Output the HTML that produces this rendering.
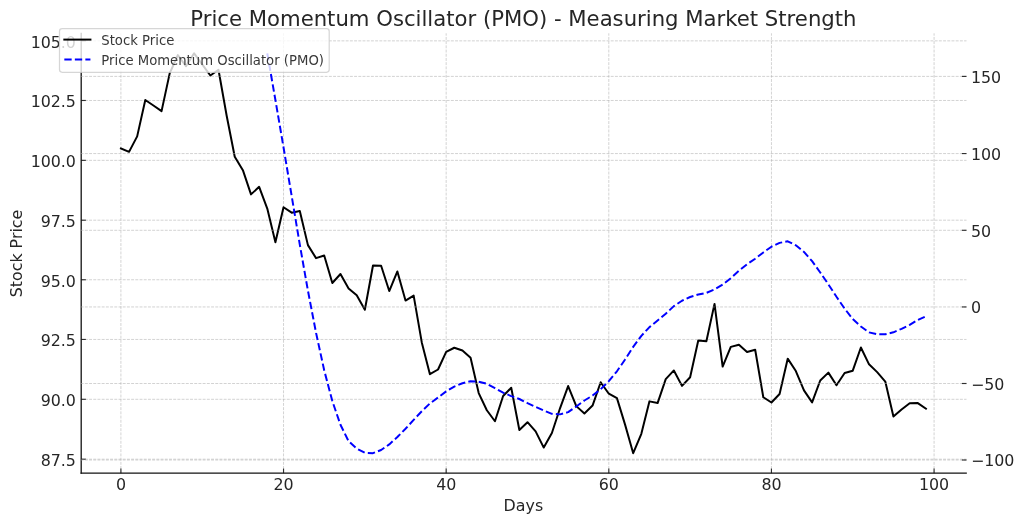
<!DOCTYPE html>
<html lang="en"><head><meta charset="utf-8">
<title>Price Momentum Oscillator (PMO) - Measuring Market Strength</title>
<style>html,body{margin:0;padding:0;background:#fff}body{width:1024px;height:524px;overflow:hidden}svg{display:block}text{font-family:"DejaVu Sans", "Liberation Sans", sans-serif;}</style>
</head><body>
<svg width="1024" height="524" viewBox="0 0 1024 524">
<rect x="0" y="0" width="1024" height="524" fill="#ffffff"/>
<g id="grid-left" fill="none" stroke="#b0b0b0" stroke-opacity="0.7" stroke-width="0.793" stroke-dasharray="2.937 1.270">
<path d="M120.9 473.2 V33.3"/>
<path d="M283.54 473.2 V33.3"/>
<path d="M446.17 473.2 V33.3"/>
<path d="M608.81 473.2 V33.3"/>
<path d="M771.44 473.2 V33.3"/>
<path d="M934.08 473.2 V33.3"/>
<path d="M80.65 459.2 H966.5"/>
<path d="M80.65 399.3 H966.5"/>
<path d="M80.65 339.45 H966.5"/>
<path d="M80.65 279.75 H966.5"/>
<path d="M80.65 220.2 H966.5"/>
<path d="M80.65 160.35 H966.5"/>
<path d="M80.65 100.47 H966.5"/>
<path d="M80.65 40.85 H966.5"/>
</g>
<path id="stock-price" d="M120.9 148.54 L129.03 151.85 L137.17 136.36 L145.3 99.95 L153.43 105.55 L161.56 111.15 L169.69 73.39 L177.82 55.04 L185.96 66.27 L194.09 53.3 L202.22 64.37 L210.35 75.51 L218.48 69.72 L226.62 115.47 L234.75 156.71 L242.88 170.15 L251.01 194.36 L259.14 186.85 L267.27 208.56 L275.41 242.32 L283.54 207.28 L291.67 212.68 L299.8 211.07 L307.93 245.13 L316.06 258.14 L324.2 255.49 L332.33 283.01 L340.46 274.03 L348.59 288.39 L356.72 295.36 L364.86 309.75 L372.99 265.46 L381.12 265.79 L389.25 291.07 L397.38 271.41 L405.51 300.59 L413.65 295.6 L421.78 342.45 L429.91 374.21 L438.04 369.5 L446.17 351.84 L454.3 347.75 L462.44 350.51 L470.57 357.71 L478.7 393.06 L486.83 410.27 L494.96 421.28 L503.1 396.01 L511.23 387.79 L519.36 429.94 L527.49 422.2 L535.62 431.4 L543.75 447.59 L551.89 432.96 L560.02 408.31 L568.15 386.05 L576.28 406.11 L584.41 413.5 L592.55 405.58 L600.68 382.26 L608.81 393.72 L616.94 398.16 L625.07 424.61 L633.2 453.2 L641.34 433.78 L649.47 401.35 L657.6 403.08 L665.73 379.08 L673.86 370.44 L681.99 385.86 L690.13 377.22 L698.26 340.45 L706.39 341.31 L714.52 303.9 L722.65 366.53 L730.79 346.88 L738.92 344.8 L747.05 351.95 L755.18 349.76 L763.31 397.27 L771.44 402.53 L779.58 393.99 L787.71 358.66 L795.84 371.05 L803.97 390.37 L812.1 402.37 L820.23 380.49 L828.37 372.63 L836.5 385.29 L844.63 373.02 L852.76 370.7 L860.89 347.54 L869.03 364.33 L877.16 372.16 L885.29 381.53 L893.42 416.52 L901.55 409.44 L909.68 403.2 L917.82 403.08 L925.95 408.69" fill="none" stroke="#000000" stroke-width="1.983" stroke-linejoin="round" stroke-miterlimit="10" stroke-linecap="square"/>
<g id="ticks-left" fill="none" stroke="#303030" stroke-width="1.15">
<path d="M120.9 473.2 v-4.63"/>
<path d="M283.54 473.2 v-4.63"/>
<path d="M446.17 473.2 v-4.63"/>
<path d="M608.81 473.2 v-4.63"/>
<path d="M771.44 473.2 v-4.63"/>
<path d="M934.08 473.2 v-4.63"/>
<path d="M81.2 459.2 h4.63"/>
<path d="M81.2 399.3 h4.63"/>
<path d="M81.2 339.45 h4.63"/>
<path d="M81.2 279.75 h4.63"/>
<path d="M81.2 220.2 h4.63"/>
<path d="M81.2 160.35 h4.63"/>
<path d="M81.2 100.47 h4.63"/>
<path d="M81.2 40.85 h4.63"/>
</g>
<g id="spines" fill="none" stroke="#121212" stroke-width="1.3" stroke-linecap="square">
<path d="M81.2 473.2 V33.3"/>
<path d="M81.2 473.2 H966.2"/>
</g>
<g id="tick-labels" fill="#262626" font-size="15.87px" letter-spacing="-0.1px">
<text x="120.9" y="490" text-anchor="middle">0</text>
<text x="283.54" y="490" text-anchor="middle">20</text>
<text x="446.17" y="490" text-anchor="middle">40</text>
<text x="608.81" y="490" text-anchor="middle">60</text>
<text x="771.44" y="490" text-anchor="middle">80</text>
<text x="934.08" y="490" text-anchor="middle">100</text>
<text x="75.7" y="466" text-anchor="end">87.5</text>
<text x="75.7" y="406" text-anchor="end">90.0</text>
<text x="75.7" y="346" text-anchor="end">92.5</text>
<text x="75.7" y="287" text-anchor="end">95.0</text>
<text x="75.7" y="227" text-anchor="end">97.5</text>
<text x="75.7" y="167" text-anchor="end">100.0</text>
<text x="75.7" y="107" text-anchor="end">102.5</text>
<text x="75.7" y="48" text-anchor="end">105.0</text>
<text x="971.1" y="466" text-anchor="start">−100</text>
<text x="971.1" y="390" text-anchor="start">−50</text>
<text x="971.1" y="313" text-anchor="start">0</text>
<text x="971.1" y="237" text-anchor="start">50</text>
<text x="971.1" y="160" text-anchor="start">100</text>
<text x="971.1" y="83" text-anchor="start">150</text>
</g>
<text x="523.4" y="510.9" text-anchor="middle" font-size="15.87px" fill="#262626">Days</text>
<text transform="translate(22 253.5) rotate(-90)" text-anchor="middle" font-size="15.87px" fill="#262626">Stock Price</text>
<text x="523.45" y="25.6" text-anchor="middle" font-size="21.2px" fill="#262626">Price Momentum Oscillator (PMO) - Measuring Market Strength</text>
<g id="grid-right" fill="none" stroke="#b0b0b0" stroke-opacity="0.7" stroke-width="0.793" stroke-dasharray="2.937 1.270">
<path d="M80.65 460 H966.5"/>
<path d="M80.65 383.5 H966.5"/>
<path d="M80.65 306.95 H966.5"/>
<path d="M80.65 230.3 H966.5"/>
<path d="M80.65 153.55 H966.5"/>
<path d="M80.65 76.4 H966.5"/>
</g>
<path id="pmo" d="M267.27 53.3 L275.41 100.01 L283.54 147.51 L291.67 195.94 L299.8 244.61 L307.93 290.69 L316.06 332.89 L324.2 370.31 L332.33 401.09 L340.46 424.79 L348.59 441.21 L356.72 448.61 L364.86 452.75 L372.99 453.2 L381.12 450.04 L389.25 444.42 L397.38 437.01 L405.51 428.76 L413.65 419.86 L421.78 411.24 L429.91 403.45 L438.04 397.58 L446.17 391.37 L454.3 386.58 L462.44 383.23 L470.57 381.21 L478.7 381.76 L486.83 383.7 L494.96 388.16 L503.1 392.65 L511.23 396.06 L519.36 399 L527.49 403.11 L535.62 406.87 L543.75 410.42 L551.89 413.83 L560.02 414.37 L568.15 412.16 L576.28 406.5 L584.41 400.51 L592.55 395.56 L600.68 389.23 L608.81 381.1 L616.94 371.27 L625.07 359.53 L633.2 346.89 L641.34 335.81 L649.47 327.14 L657.6 320.57 L665.73 313.76 L673.86 306.12 L681.99 300.77 L690.13 296.98 L698.26 294.5 L706.39 292.84 L714.52 289.46 L722.65 284.6 L730.79 278.18 L738.92 270.79 L747.05 264.26 L755.18 258.7 L763.31 252.5 L771.44 246.72 L779.58 242.85 L787.71 241.29 L795.84 245.29 L803.97 251.95 L812.1 261.15 L820.23 272.46 L828.37 284.34 L836.5 296.79 L844.63 308.62 L852.76 319.05 L860.89 326.51 L869.03 332.37 L877.16 334.23 L885.29 334.32 L893.42 332.29 L901.55 328.85 L909.68 324.88 L917.82 319.88 L925.95 316.23" fill="none" stroke="#0000ff" stroke-width="1.983" stroke-linejoin="round" stroke-linecap="butt" stroke-dasharray="7.34 3.17" stroke-dashoffset="0"/>
<g id="ticks-right" fill="none" stroke="#303030" stroke-width="1.15">
<path d="M966.5 460 h-4.63"/>
<path d="M966.5 383.5 h-4.63"/>
<path d="M966.5 306.95 h-4.63"/>
<path d="M966.5 230.3 h-4.63"/>
<path d="M966.5 153.55 h-4.63"/>
<path d="M966.5 76.4 h-4.63"/>
</g>
<g id="legend">
<rect x="59.5" y="28.6" width="269.7" height="43.65" rx="2.7" ry="2.7" fill="#ffffff" fill-opacity="0.8" stroke="#cccccc" stroke-opacity="0.8" stroke-width="1.25"/>
<path d="M64.33 39.6 H90.43" fill="none" stroke="#000000" stroke-width="1.983" stroke-linecap="square"/>
<path d="M64.33 59.6 H90.43" fill="none" stroke="#0000ff" stroke-width="1.983" stroke-dasharray="7.34 3.17"/>
<g fill="#383838" font-size="13.22px">
<text x="101.3" y="44.76">Stock Price</text>
<text x="101.3" y="64.56">Price Momentum Oscillator (PMO)</text>
</g></g>
</svg>
</body></html>
